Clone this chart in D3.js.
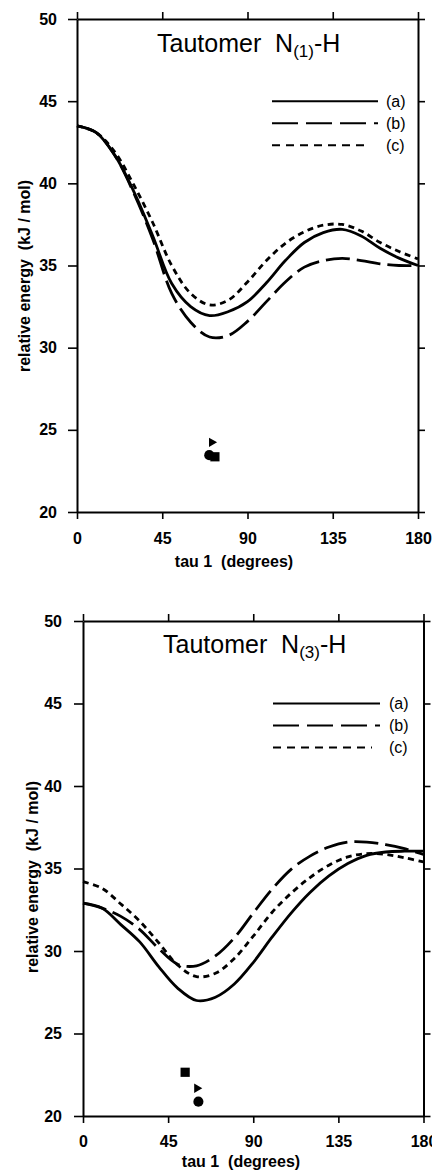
<!DOCTYPE html>
<html>
<head>
<meta charset="utf-8">
<script src="https://cdn.jsdelivr.net/npm/d3@7"></script>
<style>
  body { margin: 0; background: #fff; }
  svg { display: block; font-family: "Liberation Sans", Arial, Helvetica, sans-serif; }
</style>
</head>
<body>
<svg id="chart" width="432" height="1171"></svg>
<script>
// torsion angle grid (degrees)
var tau = [0, 10, 20, 30, 40, 50, 60, 70, 80, 90, 100, 110, 120, 130, 140, 150, 160, 170, 180];

// Tautomer N(1)-H, relative energy kJ/mol
var n1A = [43.5, 43.1, 41.7, 39.5, 36.8, 33.9, 32.5, 31.95, 32.2, 32.8, 33.95, 35.3, 36.4, 37.0, 37.2, 36.8, 36.05, 35.45, 35.0];
var n1B = [43.5, 43.1, 41.7, 39.4, 36.6, 33.3, 31.55, 30.65, 30.75, 31.6, 32.8, 34.0, 34.9, 35.3, 35.43, 35.3, 35.1, 35.0, 35.0];
var n1C = [43.5, 43.1, 41.9, 39.9, 37.6, 35.0, 33.3, 32.6, 32.9, 34.0, 35.3, 36.35, 37.05, 37.45, 37.5, 37.1, 36.4, 35.85, 35.4];

// Tautomer N(3)-H
var n3A = [32.9, 32.6, 31.6, 30.55, 29.05, 27.75, 27.0, 27.2, 28.0, 29.3, 30.85, 32.3, 33.55, 34.55, 35.3, 35.8, 36.0, 36.05, 36.05];
var n3B = [32.9, 32.6, 32.1, 31.3, 30.15, 29.2, 29.1, 29.7, 30.8, 32.3, 33.75, 34.95, 35.75, 36.3, 36.6, 36.6, 36.45, 36.2, 35.85];
var n3C = [34.2, 33.8, 32.85, 31.8, 30.5, 29.15, 28.45, 28.65, 29.55, 30.9, 32.35, 33.5, 34.45, 35.2, 35.7, 35.9, 35.85, 35.65, 35.4];

// single points (experimental structures)
var markerShapes = ["square", "circle", "triangle"];
var n1MarkerTau = [72.8, 69.8, 71.1];
var n1MarkerE = [23.36, 23.46, 24.24];
var n3MarkerTau = [54, 61, 60.2];
var n3MarkerE = [22.65, 20.87, 21.68];

var xTicks = [0, 45, 90, 135, 180];
var yTicks = [20, 25, 30, 35, 40, 45, 50];
var legendLabels = ["(a)", "(b)", "(c)"];
var dashes = [null, "24,7", "6,4.5"];
var legendDashes = [null, "26,8", "8,6"];

var svg = d3.select("#chart");

drawPanel({
  left: 77, right: 418, top: 19, bottom: 512,
  series: [n1A, n1B, n1C],
  sub: "(1)", titleX: 157, titleY: 52,
  markTau: n1MarkerTau, markE: n1MarkerE,
  yPad: 11, xPad: 14, yLabelX: 24, yLabelY: 276,
  xLabelX: 234, xLabelY: 567,
  legX1: 272, legX2: 378, legTextX: 386
});

drawPanel({
  left: 83, right: 423.5, top: 621, bottom: 1116,
  series: [n3A, n3B, n3C],
  sub: "(3)", titleX: 163, titleY: 653,
  markTau: n3MarkerTau, markE: n3MarkerE,
  yPad: 12, xPad: 13, yLabelX: 32, yLabelY: 877,
  xLabelX: 241, xLabelY: 1167,
  legX1: 273, legX2: 380, legTextX: 389
});

function drawPanel(p) {
  var x = d3.scaleLinear().domain([0, 180]).range([p.left, p.right]);
  var y = d3.scaleLinear().domain([20, 50]).range([p.bottom, p.top]);
  var g = svg.append("g");

  // frame with outward ticks on all four sides
  g.append("g")
    .attr("transform", "translate(0," + p.bottom + ")")
    .call(d3.axisBottom(x).tickValues(xTicks).tickSize(7).tickSizeOuter(0).tickPadding(p.xPad))
    .call(styleAxis);
  g.append("g")
    .attr("transform", "translate(0," + p.top + ")")
    .call(d3.axisTop(x).tickValues(xTicks).tickSize(7).tickSizeOuter(0).tickFormat(""))
    .call(styleAxis);
  g.append("g")
    .attr("transform", "translate(" + p.left + ",0)")
    .call(d3.axisLeft(y).tickValues(yTicks).tickSize(9).tickSizeOuter(0).tickPadding(p.yPad))
    .call(styleAxis);
  g.append("g")
    .attr("transform", "translate(" + p.right + ",0)")
    .call(d3.axisRight(y).tickValues(yTicks).tickSize(7).tickSizeOuter(0).tickFormat(""))
    .call(styleAxis);

  // curves
  var line = d3.line()
    .x(function(d, i) { return x(tau[i]); })
    .y(function(d) { return y(d); })
    .curve(d3.curveCatmullRom.alpha(0.5));

  p.series.forEach(function(s, i) {
    g.append("path")
      .attr("d", line(s))
      .attr("fill", "none")
      .attr("stroke", "#000")
      .attr("stroke-width", 2.8)
      .attr("stroke-dasharray", dashes[i])
      .attr("stroke-linecap", "butt");
  });

  // markers
  markerShapes.forEach(function(shape, i) {
    var sym = shape == "square" ? d3.symbolSquare : shape == "circle" ? d3.symbolCircle : d3.symbolTriangle;
    var size = shape == "square" ? 85 : shape == "circle" ? 80 : 38;
    var rot = shape == "triangle" ? 90 : 0;
    g.append("path")
      .attr("d", d3.symbol().type(sym).size(size)())
      .attr("transform", "translate(" + x(p.markTau[i]) + "," + y(p.markE[i]) + ") rotate(" + rot + ")")
      .attr("fill", "#000");
  });

  // legend
  legendLabels.forEach(function(lab, i) {
    var ly = y(45) + i * 22;
    g.append("line")
      .attr("x1", p.legX1).attr("x2", lab == "(c)" ? p.legX2 - 8 : p.legX2)
      .attr("y1", ly).attr("y2", ly)
      .attr("stroke", "#000")
      .attr("stroke-width", 2)
      .attr("stroke-dasharray", legendDashes[i]);
    g.append("text")
      .attr("x", p.legTextX)
      .attr("y", ly)
      .attr("dy", "0.35em")
      .attr("font-size", 16)
      .text(lab);
  });

  // title
  var t = g.append("text")
    .attr("x", p.titleX)
    .attr("y", p.titleY)
    .attr("font-size", 25)
    .style("white-space", "pre");
  t.append("tspan").text("Tautomer  N");
  t.append("tspan").attr("font-size", 17).attr("dy", 5).text(p.sub);
  t.append("tspan").attr("dy", -5).text("-H");

  // axis titles
  g.append("text")
    .attr("x", p.xLabelX)
    .attr("y", p.xLabelY)
    .attr("text-anchor", "middle")
    .attr("font-size", 16)
    .attr("font-weight", "bold")
    .style("white-space", "pre")
    .text("tau 1  (degrees)");
  g.append("text")
    .attr("transform", "translate(" + p.yLabelX + "," + p.yLabelY + ") rotate(-90)")
    .attr("text-anchor", "middle")
    .attr("dy", "0.35em")
    .attr("font-size", 16)
    .attr("font-weight", "bold")
    .style("white-space", "pre")
    .text("relative energy  (kJ / mol)");
}

function styleAxis(sel) {
  sel.attr("font-family", null).attr("font-size", null);
  sel.select(".domain").attr("stroke-width", 2);
  sel.selectAll(".tick line").attr("stroke-width", 1.6);
  sel.selectAll(".tick text")
    .attr("font-size", 16)
    .attr("font-weight", "bold")
    .attr("fill", "#000");
}
</script>
</body>
</html>
